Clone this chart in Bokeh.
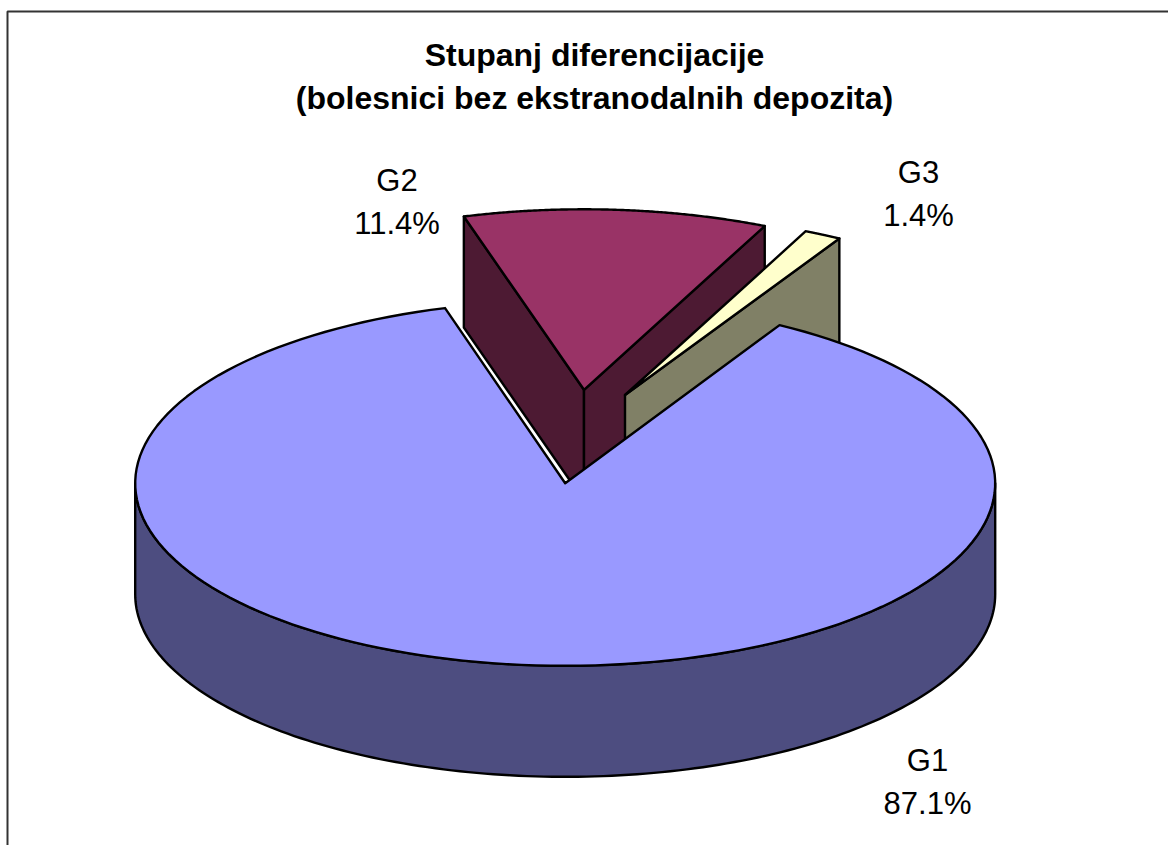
import numpy as np
from bokeh.core.properties import value
from bokeh.embed import file_html
from bokeh.models import Range1d
from bokeh.plotting import figure
from bokeh.resources import INLINE

# --- chart values -----------------------------------------------------------
categories = ["G1", "G2", "G3"]
shares = [87.1, 11.4, 1.4]
percent_labels = ["87.1%", "11.4%", "1.4%"]
title_lines = ["Stupanj diferencijacije", "(bolesnici bez ekstranodalnih depozita)"]

# --- styling / layout -------------------------------------------------------
top_colors = {"G1": "#9999FF", "G2": "#993366", "G3": "#FFFFCC"}
wall_colors = {"G1": "#4D4D80", "G2": "#4D1A33", "G3": "#808066"}
apex = {"G1": (564.7, 482.8), "G2": (583.5, 389.3), "G3": (624.5, 394.5)}
RX = 430.0
RY = {"G1": 182.5, "G2": 180.5, "G3": 180.5}
DEPTH = 111.0
START_DEG = 29.9  # slices run clockwise from here, measured from 12 o'clock
label_pos = {"G1": (927, 760, 803), "G2": (396.5, 180, 223), "G3": (918, 172, 215)}
FONT = "Liberation Sans"

W, H = 1168, 845
p = figure(width=W, height=H, output_backend="svg", toolbar_location=None,
           x_range=Range1d(0, W), y_range=Range1d(H, 0), min_border=0,
           margin=(0, 0, 0, 0))
p.axis.visible = False
p.grid.visible = False
p.outline_line_color = None
p.background_fill_color = "white"


def rim(name, a0, a1, n=160, dy=0.0):
    """Points of the rim between two sweep angles (degrees clockwise from top)."""
    cx, cy = apex[name]
    t = np.radians(np.linspace(a0, a1, n))
    return cx + RX * np.sin(t), cy - RY[name] * np.cos(t) + dy


def draw(xs, ys, color):
    p.patch(list(xs), list(ys), fill_color=color, line_color="black",
            line_width=2.4, line_join="round")


# sweep angles from the shares
total = sum(shares)
spans = {}
a = START_DEG
for cat, s in zip(categories, shares):
    spans[cat] = (a, a + 360.0 * s / total)
    a = spans[cat][1]


def straight_wall(name, angle):
    cx, cy = apex[name]
    x, y = rim(name, angle, angle, n=1)
    return [cx, x[0], x[0], cx], [cy, y[0], y[0] + DEPTH, cy + DEPTH]


def top_face(name):
    cx, cy = apex[name]
    x, y = rim(name, *spans[name])
    return [cx, *x], [cy, *y]


a0, a1 = spans["G2"]
draw(*straight_wall("G2", a0), wall_colors["G2"])
draw(*straight_wall("G2", a1), wall_colors["G2"])
draw(*top_face("G2"), top_colors["G2"])

a0, a1 = spans["G3"]
draw(*straight_wall("G3", a1), wall_colors["G3"])
draw(*top_face("G3"), top_colors["G3"])

xa, ya = rim("G1", 90, 270)
xb, yb = rim("G1", 270, 90, dy=DEPTH)
draw([*xa, *xb], [*ya, *yb], wall_colors["G1"])
draw(*top_face("G1"), top_colors["G1"])

p.line([7, 7, W], [H, 11, 11], line_color="#333333", line_width=2)

p.text([594, 594], [54, 97], text=title_lines, text_font=value(FONT),
       text_font_size="32px", text_font_style="bold", text_color="black",
       text_align="center", text_baseline="middle")

for cat, pct in zip(categories, percent_labels):
    x, y1, y2 = label_pos[cat]
    p.text([x, x], [y1, y2], text=[cat, pct], text_font=value(FONT),
           text_font_size="31px", text_color="black",
           text_align="center", text_baseline="middle")

open("out.html", "w").write(file_html(p, INLINE))
